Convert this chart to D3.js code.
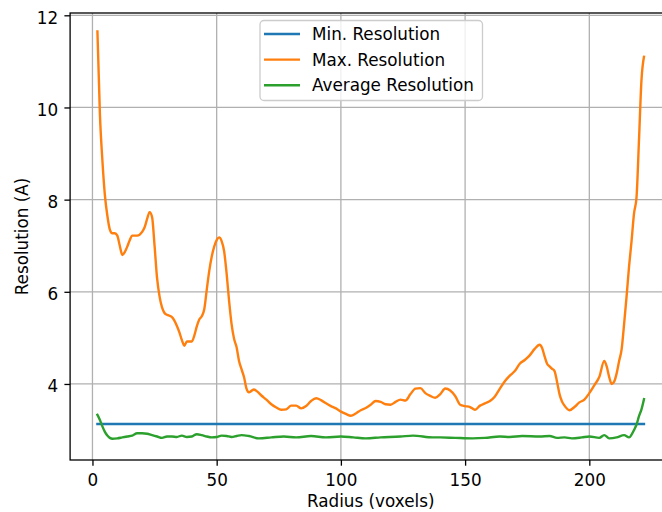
<!DOCTYPE html>
<html>
<head>
<meta charset="utf-8">
<script src="https://cdn.jsdelivr.net/npm/d3@7"></script>
<style>
  body { margin: 0; background: #fff; }
  text { font-family: "DejaVu Sans", sans-serif; }
</style>
</head>
<body>
<script>
// Chart data
var maxRadius = [2,3,4,5,6,7,8,9,10,11,12,13,14,15,16,18,20,21,22,23,24,25,26,27,28,29,30,32,34,35,36,37,38,40,41,42,43,44,45,46,47,48,49,50,51,52,53,54,55,56,57,58,59,60,61,62,63,64,65,66,68,70,72,74,76,78,80,82,84,86,88,90,92,94,96,98,100,102,104,106,108,110,112,114,116,118,120,122,124,126,128,130,132,134,136,138,140,142,144,146,148,150,152,154,156,158,160,162,164,166,168,170,172,174,176,178,180,181,182,183,184,185,186,187,188,189,190,192,194,196,198,200,202,204,206,207,208,209,210,211,212,213,214,215,216,217,218,219,220,221,222];
var maxRes = [11.65,9.85,8.85,8.1,7.65,7.35,7.27,7.27,7.22,7.0,6.8,6.86,6.98,7.12,7.22,7.22,7.3,7.4,7.58,7.73,7.62,7.0,6.3,5.9,5.66,5.54,5.5,5.45,5.26,5.12,4.95,4.83,4.92,4.92,5.05,5.25,5.4,5.47,5.62,6.04,6.45,6.76,6.98,7.12,7.18,7.1,6.88,6.4,5.8,5.3,4.98,4.8,4.5,4.32,4.15,3.9,3.82,3.85,3.88,3.85,3.75,3.66,3.56,3.49,3.44,3.45,3.53,3.53,3.47,3.52,3.63,3.69,3.65,3.58,3.52,3.47,3.4,3.35,3.31,3.36,3.43,3.48,3.55,3.63,3.61,3.56,3.55,3.61,3.66,3.64,3.78,3.9,3.91,3.8,3.74,3.7,3.78,3.9,3.86,3.74,3.55,3.52,3.5,3.44,3.53,3.58,3.63,3.73,3.9,4.06,4.18,4.28,4.44,4.52,4.62,4.76,4.85,4.78,4.6,4.44,4.38,4.33,4.28,4.05,3.78,3.62,3.53,3.43,3.5,3.6,3.66,3.8,3.97,4.15,4.5,4.38,4.15,4.0,4.05,4.23,4.5,4.75,5.3,5.9,6.55,7.1,7.7,8.05,9.3,10.6,11.1];

var avgRadius = [2,3,4,5,6,7,8,10,12,14,16,18,20,22,24,26,28,30,32,34,36,38,40,42,44,46,48,50,52,54,56,58,60,63,67,72,77,82,88,94,100,105,110,116,124,129,137,140,146,153,158,164,168,173,180,184,187,190,193,197,200,204,206,208,211,214,216,217,218,219,220,221,222];
var avgRes = [3.33,3.22,3.08,2.96,2.88,2.83,2.81,2.82,2.84,2.86,2.88,2.93,2.93,2.92,2.89,2.86,2.83,2.86,2.86,2.85,2.88,2.85,2.86,2.91,2.89,2.86,2.84,2.85,2.88,2.87,2.85,2.87,2.89,2.87,2.82,2.84,2.86,2.84,2.87,2.84,2.86,2.84,2.82,2.84,2.86,2.88,2.84,2.84,2.83,2.82,2.83,2.86,2.85,2.87,2.86,2.87,2.83,2.84,2.82,2.84,2.86,2.83,2.89,2.82,2.84,2.89,2.84,2.9,3.0,3.12,3.3,3.45,3.67];

var minRadius = [2, 222];
var minRes = [3.13, 3.13];

var xTicks = [0, 50, 100, 150, 200];
var yTicks = [4, 6, 8, 10, 12];
var seriesNames = ["Min. Resolution", "Max. Resolution", "Average Resolution"];
var seriesColors = ["#1f77b4", "#ff7f0e", "#2ca02c"];

// Chart Parameters
var svgWidth = 662;
var svgHeight = 512;
var fontSize = 16.8;

var svg = d3.select("body")
            .append("svg")
            .attr("width", svgWidth)
            .attr("height", svgHeight);

// axes box (right spine sits past the picture edge)
var plotLeft = 70.1, plotRight = 671.3, plotTop = 13, plotBottom = 460;

var xScale = d3.scaleLinear().domain([-9, 233]).range([plotLeft, plotRight]);
var yScale = d3.scaleLinear().domain([2.35, 12.05]).range([plotBottom, plotTop]);

// grid
var grid = svg.append("g");
grid.selectAll("line.gx")
    .data(xTicks)
    .enter()
    .append("line")
    .attr("x1", d => xScale(d)).attr("x2", d => xScale(d))
    .attr("y1", plotTop).attr("y2", plotBottom)
    .attr("stroke", "#b0b0b0").attr("stroke-width", 1.3);
grid.selectAll("line.gy")
    .data(yTicks)
    .enter()
    .append("line")
    .attr("y1", d => yScale(d)).attr("y2", d => yScale(d))
    .attr("x1", plotLeft).attr("x2", plotRight)
    .attr("stroke", "#b0b0b0").attr("stroke-width", 1.3);

// lines
var line = d3.line()
             .x(d => xScale(d[0]))
             .y(d => yScale(d[1]))
             .curve(d3.curveMonotoneX);

var series = [
  d3.zip(minRadius, minRes),
  d3.zip(maxRadius, maxRes),
  d3.zip(avgRadius, avgRes)
];

series.forEach(function(s, i) {
  svg.append("path")
     .datum(s)
     .attr("d", line)
     .attr("fill", "none")
     .attr("stroke", seriesColors[i])
     .attr("stroke-width", 2.4)
     .attr("stroke-linejoin", "round")
     .attr("stroke-linecap", "square");
});

// spines
svg.append("rect")
   .attr("x", plotLeft).attr("y", plotTop)
   .attr("width", plotRight - plotLeft).attr("height", plotBottom - plotTop)
   .attr("fill", "none")
   .attr("stroke", "black")
   .attr("stroke-width", 1.3);

// axes
var bottomAxis = d3.axisBottom(xScale)
                   .tickValues(xTicks)
                   .tickFormat(d3.format("d"))
                   .tickSize(5.7)
                   .tickPadding(8.4);
var leftAxis = d3.axisLeft(yScale)
                 .tickValues(yTicks)
                 .tickFormat(d3.format("d"))
                 .tickSize(5.7)
                 .tickPadding(6.3);

var gx = svg.append("g")
            .attr("transform", `translate(0, ${plotBottom})`)
            .call(bottomAxis);
var gy = svg.append("g")
            .attr("transform", `translate(${plotLeft}, 0)`)
            .call(leftAxis);

[gx, gy].forEach(function(g) {
  g.select(".domain").remove();
  g.selectAll(".tick line").attr("stroke", "black").attr("stroke-width", 1.3);
  g.selectAll(".tick text")
   .attr("fill", "black")
   .style("font-size", fontSize + "px")
   .style("font-family", "DejaVu Sans, sans-serif");
});
gy.selectAll(".tick text").attr("dy", "0.47em");

// axis labels
svg.append("text")
   .attr("x", (plotLeft + plotRight) / 2)
   .attr("y", 506.5)
   .attr("text-anchor", "middle")
   .style("font-size", fontSize + "px")
   .text("Radius (voxels)");

svg.append("text")
   .attr("transform", `translate(28, ${(plotTop + plotBottom) / 2}) rotate(-90)`)
   .attr("text-anchor", "middle")
   .style("font-size", fontSize + "px")
   .text("Resolution (A)");

// legend
var legend = svg.append("g");
legend.append("rect")
      .attr("x", 260).attr("y", 20.5)
      .attr("width", 222.5).attr("height", 80)
      .attr("rx", 4)
      .attr("fill", "white").attr("fill-opacity", 0.8)
      .attr("stroke", "#cccccc").attr("stroke-width", 1.3);

var rows = legend.selectAll("g.row")
                 .data(seriesNames)
                 .enter()
                 .append("g")
                 .attr("transform", (d, i) => `translate(0, ${34 + i * 25.6})`);
rows.append("line")
    .attr("x1", 264).attr("x2", 300)
    .attr("stroke", (d, i) => seriesColors[i])
    .attr("stroke-width", 2.4);
rows.append("text")
    .attr("x", 312)
    .attr("y", 6.2)
    .style("font-size", fontSize + "px")
    .text(d => d);
</script>
</body>
</html>
